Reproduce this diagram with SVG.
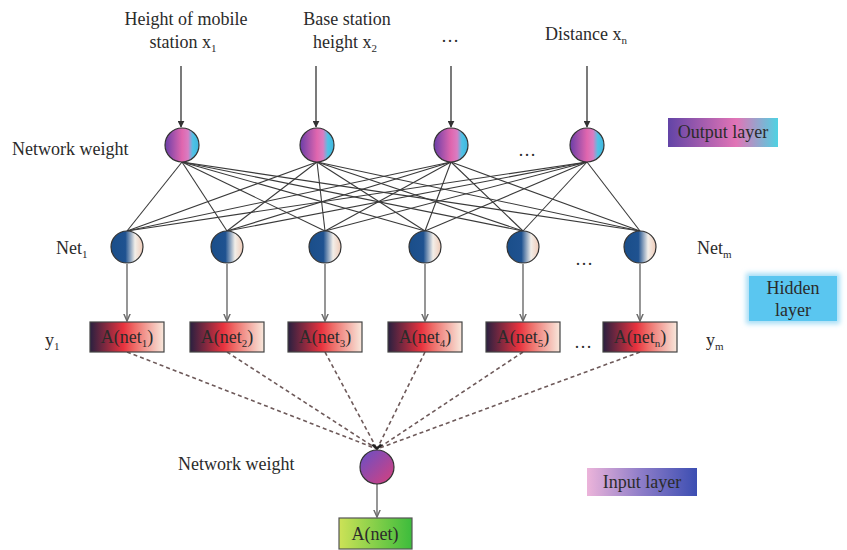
<svg xmlns="http://www.w3.org/2000/svg" width="847" height="550" viewBox="0 0 847 550">
  <style>
    text { font-family: "Liberation Serif", "Times New Roman", serif; font-size: 18px; fill: #2b2b2b; }
    .mid { text-anchor: middle; }
    .sub { font-size: 11px; }
    .w { stroke: #3a3a3a; stroke-width: 1.1; fill: none; }
    .in { stroke: #333; stroke-width: 1.3; fill: none; marker-end: url(#arrDark); }
    .down { stroke: #6a6a6a; stroke-width: 1.4; fill: none; marker-end: url(#arrGray); }
    .dash { stroke: #6e5a5a; stroke-width: 1.6; stroke-dasharray: 4 3; fill: none; }
    .top { fill: url(#gTop); stroke: #333; stroke-width: 1.2; }
    .hid { fill: url(#gHid); stroke: #333; stroke-width: 1.2; }
    .act { fill: url(#gAct); stroke: #444; stroke-width: 1.2; }
  </style>
  <defs>
    <linearGradient id="gTop" x1="0" y1="0" x2="1" y2="0">
      <stop offset="0" stop-color="#6a3ea8"/>
      <stop offset="0.5" stop-color="#e066ae"/>
      <stop offset="0.68" stop-color="#d97dc2"/>
      <stop offset="0.82" stop-color="#4fc2e6"/>
      <stop offset="1" stop-color="#3fb6de"/>
    </linearGradient>
    <linearGradient id="gHid" x1="0" y1="0" x2="1" y2="0">
      <stop offset="0" stop-color="#1a4e8a"/>
      <stop offset="0.45" stop-color="#1f5290"/>
      <stop offset="0.75" stop-color="#f2eee9"/>
      <stop offset="1" stop-color="#f0cbb8"/>
    </linearGradient>
    <linearGradient id="gAct" x1="0" y1="0" x2="1" y2="0">
      <stop offset="0" stop-color="#2a2040"/>
      <stop offset="0.45" stop-color="#e8323e"/>
      <stop offset="0.6" stop-color="#ee6a66"/>
      <stop offset="1" stop-color="#f8e8dc"/>
    </linearGradient>
    <linearGradient id="gOut" x1="0" y1="0" x2="1" y2="1">
      <stop offset="0" stop-color="#6650c8"/>
      <stop offset="1" stop-color="#d8407c"/>
    </linearGradient>
    <linearGradient id="gNet" x1="0" y1="0" x2="1" y2="0">
      <stop offset="0" stop-color="#cde257"/>
      <stop offset="1" stop-color="#3cbc3c"/>
    </linearGradient>
    <linearGradient id="gLegOut" x1="0" y1="0" x2="1" y2="0">
      <stop offset="0" stop-color="#6244a6"/>
      <stop offset="0.62" stop-color="#e274b6"/>
      <stop offset="1" stop-color="#4ed2e2"/>
    </linearGradient>
    <linearGradient id="gLegIn" x1="0" y1="0" x2="1" y2="0">
      <stop offset="0" stop-color="#ecb4da"/>
      <stop offset="0.5" stop-color="#8c7cc8"/>
      <stop offset="1" stop-color="#3c4eb2"/>
    </linearGradient>
    <filter id="soft" x="-20%" y="-30%" width="140%" height="160%">
      <feGaussianBlur stdDeviation="2.5"/>
    </filter>
    <marker id="arrDark" viewBox="0 0 10 10" refX="9" refY="5" markerWidth="7" markerHeight="7" markerUnits="userSpaceOnUse" orient="auto">
      <path d="M0,0 L10,5 L0,10 z" fill="#333"/>
    </marker>
    <marker id="arrGray" viewBox="0 0 10 10" refX="9" refY="5" markerWidth="8" markerHeight="8" markerUnits="userSpaceOnUse" orient="auto">
      <path d="M0,1 L9,5 L0,9" fill="none" stroke="#6a6a6a" stroke-width="1.8"/>
    </marker>
    <marker id="arrMeet" viewBox="0 0 10 10" refX="9" refY="5" markerWidth="7" markerHeight="7" markerUnits="userSpaceOnUse" orient="auto">
      <path d="M0,0 L10,5 L0,10 z" fill="#222"/>
    </marker>
  </defs>

  <!-- input labels -->
  <g id="labels-inputs">
    <text class="mid" x="186" y="25">Height of mobile</text>
    <text class="mid" x="183" y="48">station x<tspan class="sub" dy="4">1</tspan></text>
    <text class="mid" x="347" y="25">Base station</text>
    <text class="mid" x="345" y="48">height x<tspan class="sub" dy="4">2</tspan></text>
    <text class="mid" x="450" y="42">…</text>
    <text class="mid" x="586" y="40">Distance x<tspan class="sub" dy="4">n</tspan></text>
  </g>

  <!-- connectors -->
  <g id="connectors">
    <line class="in" x1="181" y1="66" x2="181" y2="127"/>
    <line class="in" x1="316" y1="66" x2="316" y2="127"/>
    <line class="in" x1="451" y1="66" x2="451" y2="127"/>
    <line class="in" x1="587" y1="66" x2="587" y2="127"/>

    <!-- full mesh: weighting layer to net layer -->
    <line class="w" x1="182" y1="162" x2="127" y2="231"/>
    <line class="w" x1="182" y1="162" x2="227" y2="231"/>
    <line class="w" x1="182" y1="162" x2="325" y2="231"/>
    <line class="w" x1="182" y1="162" x2="425" y2="231"/>
    <line class="w" x1="182" y1="162" x2="523" y2="231"/>
    <line class="w" x1="182" y1="162" x2="640" y2="231"/>
    <line class="w" x1="317" y1="162" x2="127" y2="231"/>
    <line class="w" x1="317" y1="162" x2="227" y2="231"/>
    <line class="w" x1="317" y1="162" x2="325" y2="231"/>
    <line class="w" x1="317" y1="162" x2="425" y2="231"/>
    <line class="w" x1="317" y1="162" x2="523" y2="231"/>
    <line class="w" x1="317" y1="162" x2="640" y2="231"/>
    <line class="w" x1="451" y1="162" x2="127" y2="231"/>
    <line class="w" x1="451" y1="162" x2="227" y2="231"/>
    <line class="w" x1="451" y1="162" x2="325" y2="231"/>
    <line class="w" x1="451" y1="162" x2="425" y2="231"/>
    <line class="w" x1="451" y1="162" x2="523" y2="231"/>
    <line class="w" x1="451" y1="162" x2="640" y2="231"/>
    <line class="w" x1="587" y1="162" x2="127" y2="231"/>
    <line class="w" x1="587" y1="162" x2="227" y2="231"/>
    <line class="w" x1="587" y1="162" x2="325" y2="231"/>
    <line class="w" x1="587" y1="162" x2="425" y2="231"/>
    <line class="w" x1="587" y1="162" x2="523" y2="231"/>
    <line class="w" x1="587" y1="162" x2="640" y2="231"/>

    <!-- net to activation -->
    <line class="down" x1="127" y1="264" x2="127" y2="321"/>
    <line class="down" x1="227" y1="264" x2="227" y2="321"/>
    <line class="down" x1="325" y1="264" x2="325" y2="321"/>
    <line class="down" x1="425" y1="264" x2="425" y2="321"/>
    <line class="down" x1="523" y1="264" x2="523" y2="321"/>
    <line class="down" x1="640" y1="264" x2="640" y2="321"/>

    <!-- activations to output weight -->
    <line class="dash" x1="127" y1="352" x2="377" y2="449"/>
    <line class="dash" x1="227" y1="352" x2="377" y2="449"/>
    <line class="dash" x1="325" y1="352" x2="377" y2="449"/>
    <line class="dash" x1="425" y1="352" x2="377" y2="449"/>
    <line class="dash" x1="523" y1="352" x2="377" y2="449"/>
    <line class="dash" x1="640" y1="352" x2="377" y2="449"/>
    <path d="M371,445 L377,450 L383,445 L380,444 L377,447 L374,444 z" fill="#222"/>

    <line class="down" x1="377" y1="484" x2="377" y2="517"/>
  </g>

  <!-- weighting nodes -->
  <g id="w1"><circle class="top" cx="182" cy="145" r="17"/></g>
  <g id="w2"><circle class="top" cx="317" cy="145" r="17"/></g>
  <g id="w3"><circle class="top" cx="451" cy="145" r="17"/></g>
  <g id="w4"><circle class="top" cx="587" cy="145" r="17"/></g>
  <text x="12" y="155">Network weight</text>
  <text class="mid" x="527" y="156">…</text>

  <!-- net nodes -->
  <g id="n1"><circle class="hid" cx="127" cy="247" r="16"/></g>
  <g id="n2"><circle class="hid" cx="227" cy="247" r="16"/></g>
  <g id="n3"><circle class="hid" cx="325" cy="247" r="16"/></g>
  <g id="n4"><circle class="hid" cx="425" cy="247" r="16"/></g>
  <g id="n5"><circle class="hid" cx="523" cy="247" r="16"/></g>
  <g id="n6"><circle class="hid" cx="640" cy="247" r="16"/></g>
  <text x="56" y="254">Net<tspan class="sub" dy="4">1</tspan></text>
  <text x="697" y="254">Net<tspan class="sub" dy="4">m</tspan></text>
  <text class="mid" x="584" y="265">…</text>

  <!-- activation nodes -->
  <g id="a1"><rect class="act" x="90" y="322" width="74" height="30"/><text class="mid" x="127" y="343">A(net<tspan class="sub" dy="4">1</tspan><tspan dy="-4">)</tspan></text></g>
  <g id="a2"><rect class="act" x="190" y="322" width="74" height="30"/><text class="mid" x="227" y="343">A(net<tspan class="sub" dy="4">2</tspan><tspan dy="-4">)</tspan></text></g>
  <g id="a3"><rect class="act" x="288" y="322" width="74" height="30"/><text class="mid" x="325" y="343">A(net<tspan class="sub" dy="4">3</tspan><tspan dy="-4">)</tspan></text></g>
  <g id="a4"><rect class="act" x="388" y="322" width="74" height="30"/><text class="mid" x="425" y="343">A(net<tspan class="sub" dy="4">4</tspan><tspan dy="-4">)</tspan></text></g>
  <g id="a5"><rect class="act" x="486" y="322" width="74" height="30"/><text class="mid" x="523" y="343">A(net<tspan class="sub" dy="4">5</tspan><tspan dy="-4">)</tspan></text></g>
  <g id="a6"><rect class="act" x="603" y="322" width="74" height="30"/><text class="mid" x="640" y="343">A(net<tspan class="sub" dy="4">n</tspan><tspan dy="-4">)</tspan></text></g>
  <text x="45" y="346">y<tspan class="sub" dy="4">1</tspan></text>
  <text x="706" y="346">y<tspan class="sub" dy="4">m</tspan></text>
  <text class="mid" x="583" y="348">…</text>

  <!-- output weight node -->
  <g id="out"><circle cx="377" cy="467" r="17" fill="url(#gOut)" stroke="#333" stroke-width="1.2"/></g>
  <text x="178" y="470">Network weight</text>

  <!-- output activation -->
  <g id="anet"><rect x="339" y="518" width="73" height="31" fill="url(#gNet)" stroke="#555" stroke-width="1.2"/><text class="mid" x="375" y="540">A(net)</text></g>

  <!-- layer legends -->
  <g id="legend-output">
    <rect x="668" y="118" width="110" height="29" fill="url(#gLegOut)"/>
    <text class="mid" x="723" y="138">Output layer</text>
  </g>
  <g id="legend-hidden">
    <rect x="746" y="273" width="94" height="51" fill="#a8def6" filter="url(#soft)"/>
    <rect x="749" y="276" width="88" height="45" fill="#5ac6f0"/>
    <text class="mid" x="793" y="294">Hidden</text>
    <text class="mid" x="793" y="316">layer</text>
  </g>
  <g id="legend-input">
    <rect x="587" y="468" width="110" height="28" fill="url(#gLegIn)"/>
    <text class="mid" x="642" y="488">Input layer</text>
  </g>
</svg>
